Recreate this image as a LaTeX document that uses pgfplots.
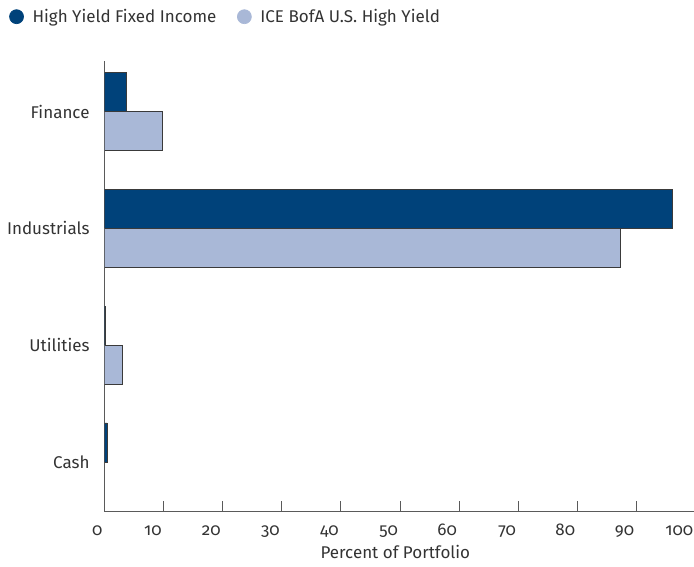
\documentclass[border=0pt]{standalone}
\usepackage{fontspec}
\setmainfont{Fira Sans}[Numbers=OldStyle]
\usepackage{pgfplots}
\pgfplotsset{compat=1.18}
\definecolor{hydark}{HTML}{00427A}
\definecolor{hylight}{HTML}{A9B8D7}
\definecolor{axgray}{HTML}{5A5A5A}
\definecolor{bardraw}{HTML}{3A3A3A}
\definecolor{txt}{HTML}{333333}
\begin{document}
\begin{tikzpicture}
\begin{axis}[
  scale only axis, width=590.7bp, height=450.7bp,
  font=\fontsize{17bp}{20bp}\selectfont, text=txt,
  xbar, bar width=39bp,
  xmin=0, xmax=100, ymin=-0.426, ymax=3.433,
  xtick={0,10,...,100}, ytick={0,1,2,3},
  xticklabel={\textnormal{\pgfmathprintnumber[assume math mode=true]{\tick}}},
  yticklabels={Cash,Utilities,Industrials,Finance},
  axis lines*=left,
  axis line style={axgray, line width=1bp},
  tick align=inside, major tick length=11bp,
  xtick style={axgray, line width=1bp},
  ytick style={draw=none},
  x tick label style={anchor=base east, inner sep=0pt, xshift=-2bp, yshift=-24bp},
  y tick label style={anchor=east, inner sep=0pt, xshift=-15bp},
  xlabel={Percent of Portfolio},
  xlabel style={at={(axis description cs:0.492,0)}, anchor=base, inner sep=0pt, yshift=-46.3bp},
  legend columns=2,
  legend style={draw=none, fill=none, at={(axis description cs:0,1)}, anchor=west,
    xshift=-95.7bp, yshift=44.3bp, inner sep=0pt,
    nodes={inner sep=0pt, anchor=west, text=txt},
    /tikz/every odd column/.append style={column sep=8.7bp},
    /tikz/every even column/.append style={column sep=20.7bp}},
]
\addplot[fill=hydark, draw=bardraw, line width=0.7bp, bar shift=19.5bp,
  legend image code/.code={\fill[hydark] (7bp,0bp) circle (7bp);}]
  coordinates {(3.7,3) (96.1,2) (0.1,1) (0.4,0)};
\addplot[fill=hylight, draw=bardraw, line width=0.7bp, bar shift=-19.5bp,
  legend image code/.code={\fill[hylight] (7bp,0bp) circle (7bp);}]
  coordinates {(9.75,3) (87.3,2) (3.0,1)};
\legend{High Yield Fixed Income, ICE BofA U.S. High Yield}
\coordinate (sw) at (rel axis cs:0,0);
\coordinate (ne) at (rel axis cs:1,1);
\end{axis}
\pgfresetboundingbox
\path[use as bounding box] ([xshift=-104.7bp, yshift=-55.3bp]sw) rectangle ([xshift=-1.4bp, yshift=61bp]ne);
\end{tikzpicture}
\end{document}
